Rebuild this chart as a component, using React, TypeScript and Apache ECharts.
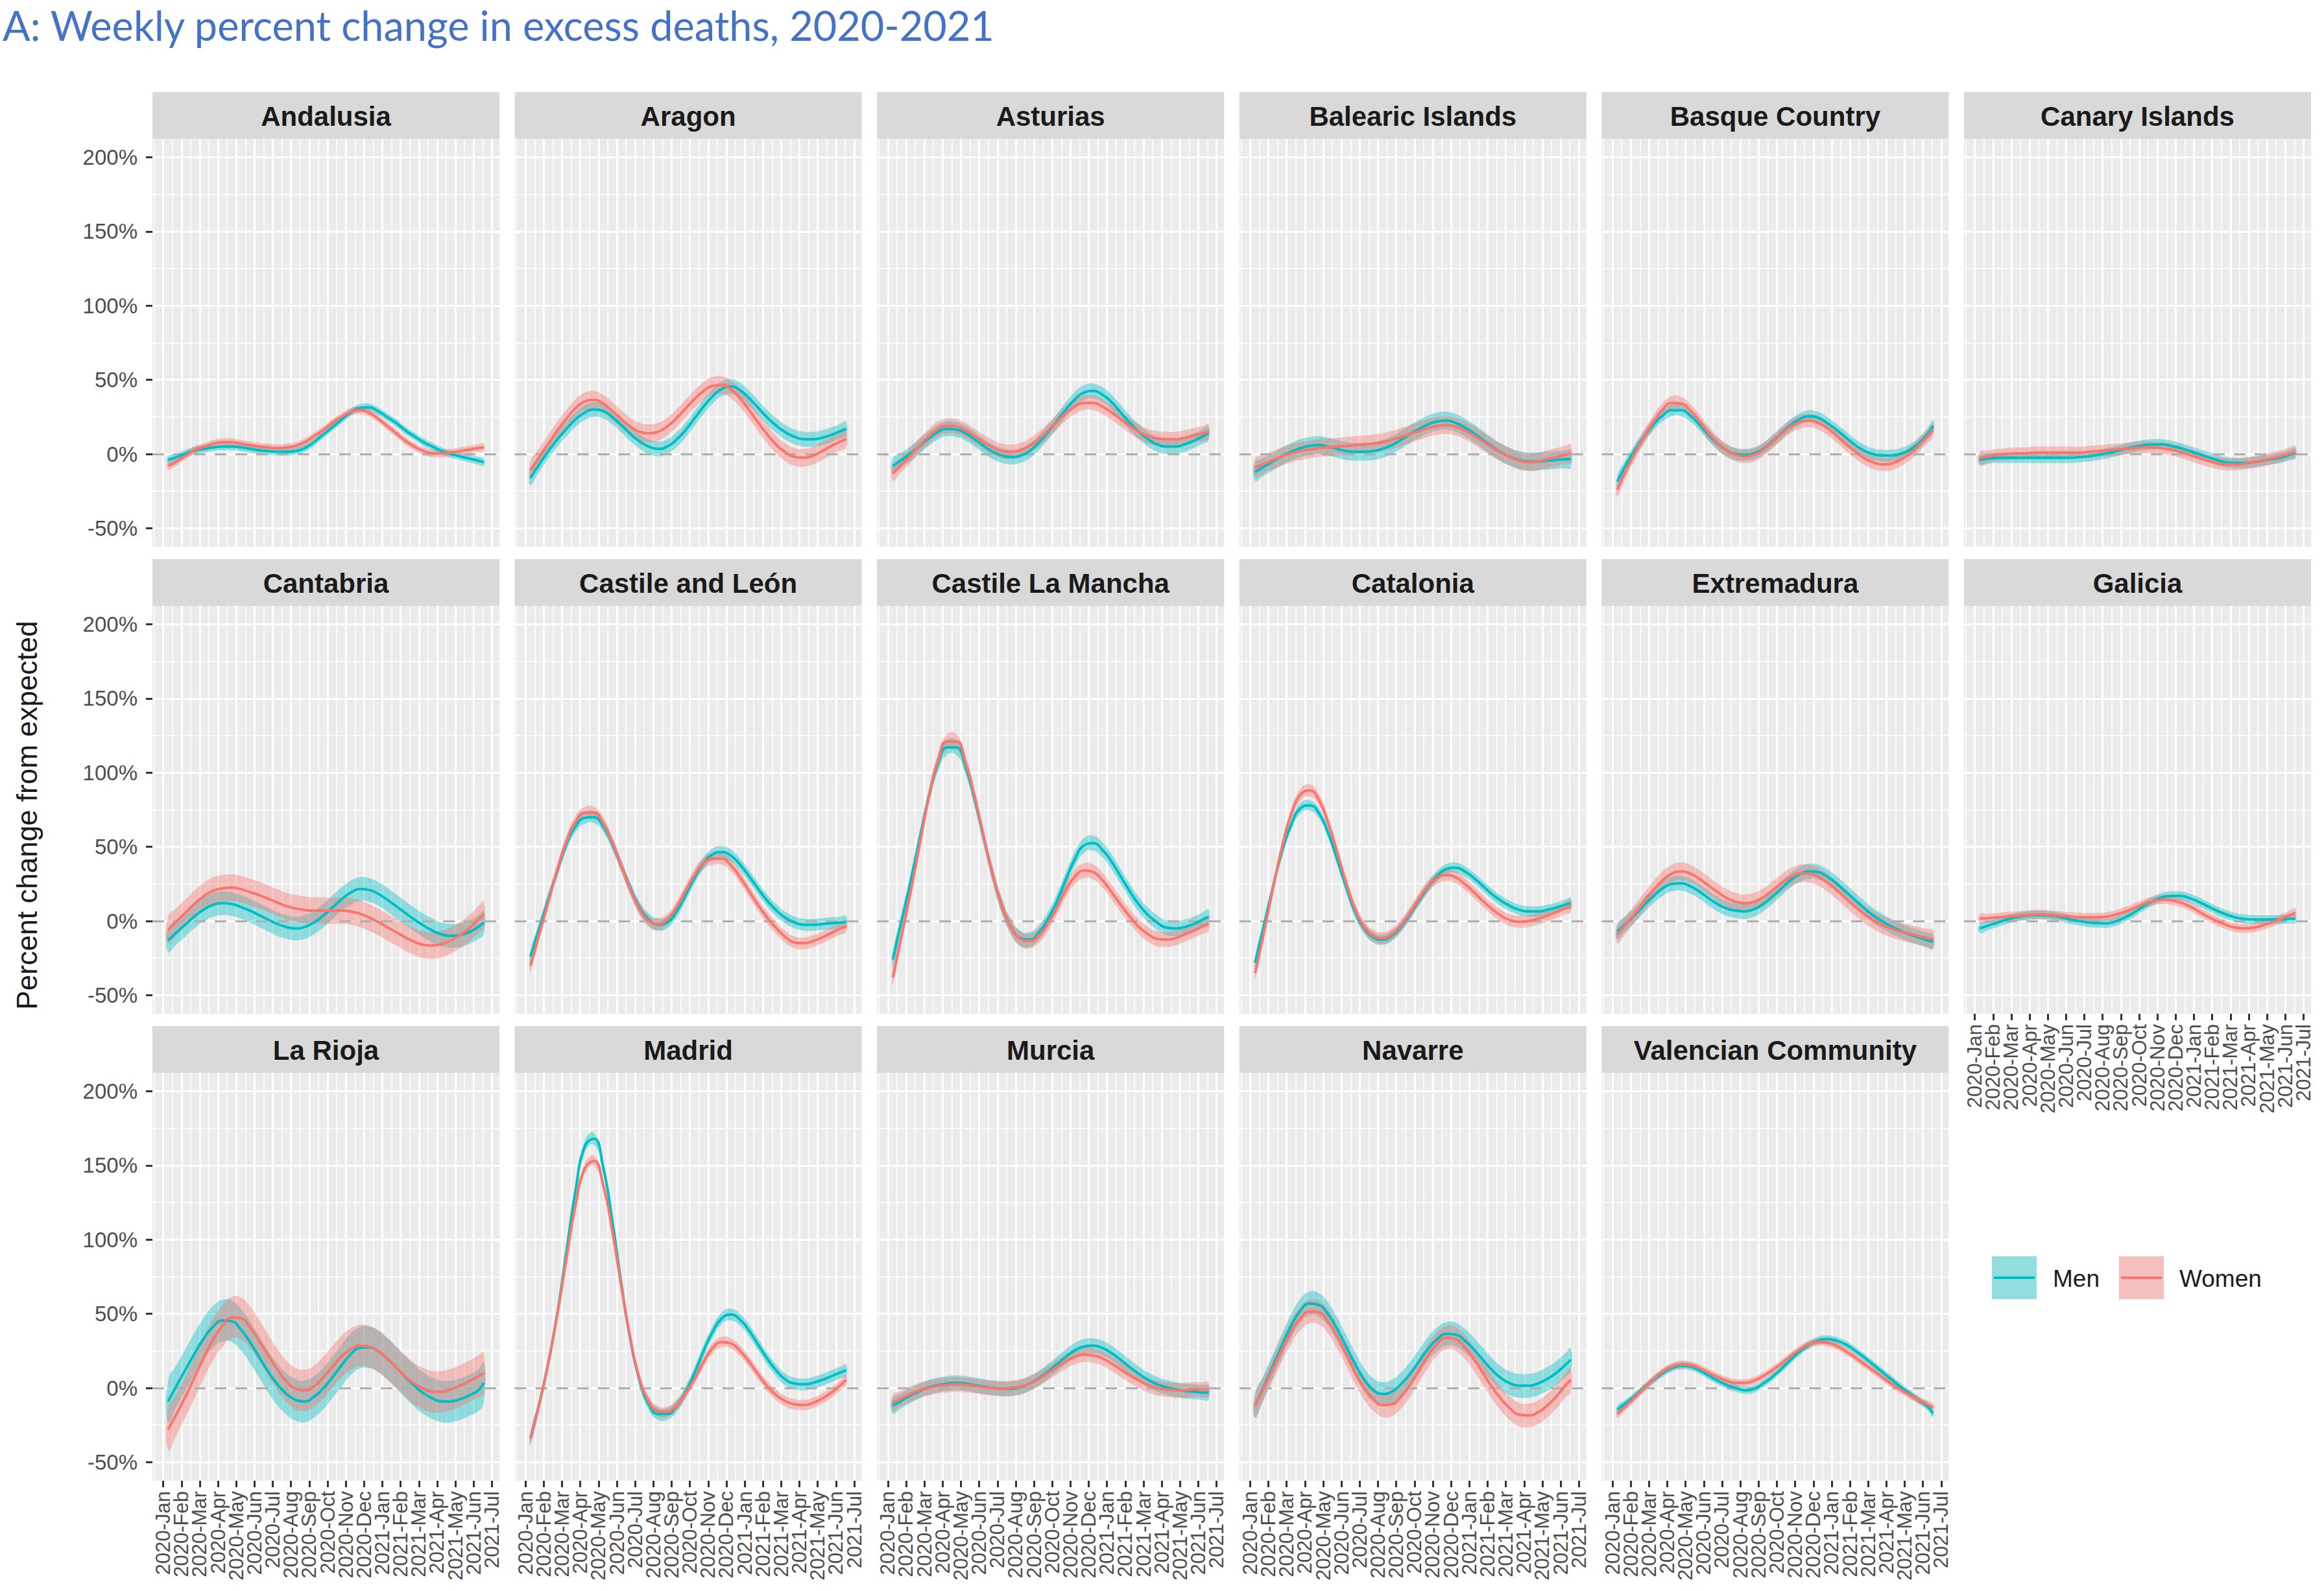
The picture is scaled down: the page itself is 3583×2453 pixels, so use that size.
import React, { useEffect, useRef } from "react";
import * as echarts from "echarts";

// ---------- DATA ----------
const REGIONS = [
  "Andalusia", "Aragon", "Asturias", "Balearic Islands", "Basque Country", "Canary Islands",
  "Cantabria", "Castile and León", "Castile La Mancha", "Catalonia", "Extremadura", "Galicia",
  "La Rioja", "Madrid", "Murcia", "Navarre", "Valencian Community",
];

const MONTH_LABELS = [
  "2020-Jan", "2020-Feb", "2020-Mar", "2020-Apr", "2020-May", "2020-Jun", "2020-Jul",
  "2020-Aug", "2020-Sep", "2020-Oct", "2020-Nov", "2020-Dec", "2021-Jan", "2021-Feb",
  "2021-Mar", "2021-Apr", "2021-May", "2021-Jun", "2021-Jul",
];

// positions in months since 2020-Jan
const MONTH_POS = [0.27, 0.75, 1.25, 1.75, 2.25, 2.75, 3.25, 3.75, 4.25, 4.75, 5.25, 5.75,
  6.25, 6.75, 7.25, 7.75, 8.25, 8.75, 9.25, 9.75, 10.25, 10.75, 11.25, 11.75,
  12.25, 12.75, 13.25, 13.75, 14.25, 14.75, 15.25, 15.75, 16.25, 16.75, 17.25, 17.55];

const Y_BREAKS = [-50, 0, 50, 100, 150, 200];
const Y_MINOR = [-25, 25, 75, 125, 175];

const ANDALUSIA_W = [-8, -5, -1, 3, 5, 7, 8, 8, 7, 6, 5, 4.5, 4, 4.5, 5.5, 8, 12, 16, 21, 25, 28.5, 29.5, 28, 24, 19, 14, 9, 5, 2, 0.5, 0.5, 1, 2, 3, 4, 4.5];
const ANDALUSIA_M = [-4, -2, 0.5, 2.5, 3.5, 4.5, 5, 5, 4.5, 3.5, 2.5, 2, 1.5, 1.5, 2, 4, 8, 13, 18, 23, 28, 31, 31.5, 29, 25, 21, 16, 12, 8, 5, 2, 0, -1.5, -3, -4.5, -5.5];
const ARAGON_W = [-11, -2, 7, 16, 24, 31, 35.5, 36.5, 34, 29, 23.5, 18.5, 15, 14, 15, 18.5, 24, 30.5, 37, 42.5, 46, 46.5, 43.5, 37.5, 29.5, 21, 13, 6, 1, -2, -2.5, -1, 2, 5.5, 8.5, 10];
const ARAGON_M = [-16, -7, 2, 10, 17, 23.5, 28, 30, 29, 25, 19.5, 13.5, 8.5, 5, 3.5, 5, 9.5, 16, 24, 32, 39, 44, 45.5, 43, 37.5, 31, 24.5, 19, 14.5, 11.5, 10, 10, 11, 13, 15.5, 17];
const ASTURIAS_W = [-13, -7, -1, 6, 12, 17, 19, 18.5, 16, 12, 8, 4.5, 2, 1.5, 2.5, 5.5, 10, 15.5, 21.5, 27.5, 32, 34.5, 34.5, 32, 28, 23.5, 19, 15, 12, 10.5, 10, 10, 11, 12.5, 14, 15];
const ASTURIAS_M = [-8, -4, 0.5, 5.5, 10.5, 15, 17, 16.5, 14, 10, 5.5, 1.5, -1, -2, -1, 2, 7.5, 14.5, 22, 30, 37, 41.5, 42.5, 40, 35, 28, 21, 15, 10, 6.5, 5, 5, 6.5, 9, 12, 14];
const BALEARIC_W = [-9, -6.5, -4, -1.5, 0.5, 2, 3, 4, 4.5, 5, 5.5, 6, 6.5, 7, 8, 9.5, 11.5, 13.5, 15.5, 17.5, 19, 19.5, 18.5, 16, 12.5, 8.5, 4.5, 1, -2, -4.5, -5.5, -5, -3.5, -2, -0.5, 0.5];
const BALEARIC_M = [-12, -8.5, -5, -1.5, 1.5, 4, 5.5, 6, 5, 3.5, 2, 1.5, 1.5, 2, 3.5, 6, 9.5, 13.5, 17, 20, 22, 22.5, 21, 18, 14, 9.5, 5, 1, -2, -4, -5, -5, -4.5, -4, -3.5, -3.5];
const BASQUE_W = [-24, -11, 1, 12, 22, 30, 34.5, 34, 29.5, 22.5, 14.5, 7.5, 2.5, -0.5, -1.5, -0.5, 3, 8, 13.5, 18.5, 21.5, 22.5, 21, 17.5, 12.5, 7, 2, -2.5, -5.5, -7, -6.5, -4, 0, 5.5, 12, 16];
const BASQUE_M = [-18.5, -7, 3, 12, 20, 26, 29.5, 29.5, 26, 20, 13, 7, 2.5, 0, -0.5, 0.5, 3.5, 8.5, 14, 19.5, 23.5, 25.5, 24.5, 21, 16.5, 11.5, 6.5, 2.5, 0, -1, -1, 0, 2.5, 7, 13.5, 19];
const CANARY_W = [-2.5, -1.5, -0.5, 0, 0.5, 0.5, 1, 1, 1, 1, 1, 1, 1.5, 2, 2.5, 3, 3.5, 4, 4.5, 4.5, 4, 3, 1.5, -0.5, -2.5, -4.5, -6, -7, -7, -6.5, -5.5, -4.5, -3, -1.5, 0.5, 1.5];
const CANARY_M = [-4, -3, -2.5, -2.5, -2.5, -2.5, -2.5, -2.5, -2.5, -2.5, -2.5, -2, -1.5, -0.5, 0.5, 2, 3.5, 5, 6, 6.5, 6.5, 5.5, 4, 2, 0, -2, -4, -5.5, -6, -6, -5.5, -4.5, -3.5, -2.5, -0.5, 0.5];
const CANTABRIA_W = [-6, 0, 6, 12, 17, 20.5, 22, 22.5, 21.5, 19.5, 17.5, 15, 12.5, 10, 8.5, 7.5, 7, 7, 7, 7, 6.5, 5, 2.5, -0.5, -4, -7.5, -11, -14, -16, -16.5, -15.5, -13, -9.5, -5, 1, 4.5];
const CANTABRIA_M = [-13, -7.5, -2, 3.5, 8, 11, 12, 11.5, 9.5, 7, 4, 1, -2, -4, -5, -4, -1, 3.5, 9, 14.5, 19, 21.5, 21, 18.5, 14.5, 10, 5.5, 1, -3, -6.5, -9, -10, -9.5, -7.5, -4, -1];
const CASTILE_LEON_W = [-30, -9, 13, 35, 54, 67, 73, 73, 66, 53, 37, 21, 8, 0, -2, 1, 9, 20, 31, 39, 42, 42, 37.5, 29.5, 20, 10.5, 2, -5, -11, -14.5, -15, -13.5, -11, -8, -5, -3.5];
const CASTILE_LEON_M = [-24, -5, 15, 34, 52, 64, 69.5, 70, 64, 52, 37, 22, 9, 1, -2.5, -1, 6, 17, 29, 39, 45, 46.5, 44, 38, 30, 21.5, 13.5, 7, 2, -1, -2.5, -2.5, -2, -1.5, -1, -0.5];
const CASTILE_MANCHA_W = [-38, -10, 20, 52, 84, 108, 121, 121, 107, 84, 57, 31, 10, -4, -12, -13.5, -10, -2, 9, 21, 30, 34, 33, 27.5, 19.5, 11, 3, -4, -9, -12, -12.5, -11.5, -9, -6.5, -3.5, -2];
const CASTILE_MANCHA_M = [-26, 0, 27, 56, 84, 106, 117, 117, 104, 82, 56, 31, 10, -4, -11.5, -12.5, -8, 1, 13, 28, 42, 51, 52.5, 48, 40, 30, 20, 11, 4, -1, -4.5, -5, -4, -2, 1, 3];
const CATALONIA_W = [-35, -8, 22, 50, 72, 85, 88, 82, 67, 47, 26, 8, -4, -10, -11.5, -9, -3, 5.5, 15, 23.5, 29, 31, 29.5, 25, 19.5, 13.5, 8, 3.5, 0.5, -0.5, 0, 1.5, 3.5, 6, 8.5, 10];
const CATALONIA_M = [-28, -3, 23, 47, 65, 76, 78, 73, 60, 42, 23, 6, -5, -11, -12.5, -10, -4, 4.5, 14, 23, 30.5, 35, 36, 33.5, 29, 23.5, 18, 13.5, 10, 7.5, 6.5, 6.5, 7.5, 9, 11, 12];
const EXTREMADURA_W = [-9, -2, 5.5, 13.5, 21, 27.5, 32, 33.5, 32, 28.5, 24, 19.5, 15.5, 13, 12, 13, 16, 20.5, 25.5, 29.5, 32, 32, 30, 26, 21, 15.5, 10, 5, 1, -2.5, -5, -7, -8.5, -10, -11.5, -12];
const EXTREMADURA_M = [-7, -1.5, 4.5, 11, 17, 22, 25, 25.5, 23.5, 20, 15.5, 11.5, 8.5, 7, 6.5, 8, 11.5, 16.5, 22, 27.5, 31.5, 33.5, 33, 30, 25.5, 20, 14.5, 9, 4, 0, -3.5, -6.5, -9, -11, -13, -14];
const GALICIA_W = [1.5, 2, 2.5, 3, 3.5, 4, 4.5, 4.5, 4, 3.5, 3, 2.5, 2.5, 2.5, 3, 4.5, 6.5, 9, 11.5, 13.5, 14.5, 14, 12.5, 10, 6.5, 3, 0, -2.5, -4.5, -5, -4.5, -3, -1, 1.5, 4, 5.5];
const GALICIA_M = [-5, -3, -1, 1, 2.5, 3.5, 4, 4, 3.5, 2.5, 1, 0, -1, -1.5, -1.5, 0, 2.5, 6, 10, 13.5, 16, 17, 17, 15.5, 13, 10, 7, 4.5, 2.5, 1.5, 1, 1, 1, 1, 1.5, 1.5];
const LA_RIOJA_W = [-28, -17, -5, 8, 21, 33, 42, 47.5, 47, 41, 32, 22, 12.5, 4.5, -0.5, -1.5, 1, 7, 14, 21, 26, 28.5, 28, 25, 20, 14, 8, 3, -0.5, -2.5, -2.5, -1, 1.5, 4.5, 8, 10];
const LA_RIOJA_M = [-9, 2, 13, 24, 34, 41.5, 45.5, 45, 39.5, 31, 21, 11, 2.5, -4, -8, -9, -6, -0.5, 7, 15, 22.5, 27, 27.5, 25, 20, 14, 7.5, 1.5, -3.5, -7, -9, -9, -7.5, -5, -1.5, 3.5];
const MADRID_W = [-34, -11, 17, 50, 88, 124, 148, 153, 137, 106, 68, 33, 6, -9, -15.5, -16, -12, -4, 6, 17.5, 27, 31, 30, 25, 17.5, 9, 1, -5, -9, -11, -11.5, -10, -7, -3, 2, 5.5];
const MADRID_M = [-34, -11, 17, 51, 93, 134, 163, 168, 149, 113, 70, 32, 5, -11, -17.5, -17.5, -12.5, -3, 10, 25, 38, 47, 49.5, 46, 38.5, 29, 19.5, 11.5, 5.5, 3, 2.5, 3.5, 5.5, 8, 10.5, 12];
const MURCIA_W = [-10, -7, -4, -1.5, 0, 1.5, 2, 2.5, 2, 1.5, 0.5, 0, -0.5, 0, 1, 3, 6, 10, 14, 18, 21, 22.5, 22, 20, 16.5, 12.5, 8.5, 5, 2, 0, -1, -1.5, -1.5, -1, -1, -1];
const MURCIA_M = [-12, -8.5, -5, -2, 0.5, 2, 3, 3.5, 3, 2, 1, 0, -0.5, -0.5, 0.5, 3, 6.5, 11, 16, 21, 25.5, 28, 28.5, 27, 23.5, 19, 14, 9.5, 5.5, 2.5, 0.5, -1, -2, -2.5, -3, -3];
const NAVARRE_W = [-12, 0, 13, 26, 38, 47, 51.5, 51, 45, 35, 23, 10.5, 0, -7.5, -11.5, -11, -6, 2, 12, 22, 30, 34, 33, 27.5, 19.5, 10, 0.5, -7.5, -14, -18, -18.5, -16.5, -12, -6, 1.5, 5.5];
const NAVARRE_M = [-12, 1, 15, 29, 42, 52, 57, 56, 50, 40, 28, 16, 5.5, -1.5, -4, -2.5, 2.5, 9.5, 18, 26.5, 33, 36.5, 36, 32, 26, 19, 12, 6.5, 3, 1.5, 1.5, 3, 6, 10, 15.5, 19];
const VALENCIA_W = [-17.5, -12, -6, 0, 6, 11, 14.5, 16, 15.5, 13.5, 10.5, 7.5, 5, 3.5, 3.5, 5, 8, 12, 16.5, 21.5, 26, 29.5, 31, 30.5, 28.5, 25, 21, 16.5, 12, 7.5, 3, -1, -4.5, -8, -11, -13];
const VALENCIA_M = [-14.5, -10, -5, 0.5, 5.5, 10, 13.5, 15, 14.5, 12, 8.5, 5, 2, 0, -1.5, -0.5, 3, 7.5, 13, 19, 24.5, 29, 32, 33, 32, 29.5, 25.5, 21, 16, 11, 6, 1, -3.5, -8, -12.5, -17];

const MEN = [ANDALUSIA_M, ARAGON_M, ASTURIAS_M, BALEARIC_M, BASQUE_M, CANARY_M, CANTABRIA_M,
  CASTILE_LEON_M, CASTILE_MANCHA_M, CATALONIA_M, EXTREMADURA_M, GALICIA_M, LA_RIOJA_M,
  MADRID_M, MURCIA_M, NAVARRE_M, VALENCIA_M];
const WOMEN = [ANDALUSIA_W, ARAGON_W, ASTURIAS_W, BALEARIC_W, BASQUE_W, CANARY_W, CANTABRIA_W,
  CASTILE_LEON_W, CASTILE_MANCHA_W, CATALONIA_W, EXTREMADURA_W, GALICIA_W, LA_RIOJA_W,
  MADRID_W, MURCIA_W, NAVARRE_W, VALENCIA_W];

// half-width of the confidence band (percentage points)
const CI_MEN = [2.5, 5, 5, 6, 4, 3.5, 8, 4, 5, 3.5, 5, 3, 14, 4, 5, 8, 2.5];
const CI_WOMEN = [2.5, 6, 5, 6, 4.5, 4, 9, 4, 5, 4, 6, 3, 14, 3.5, 5, 8, 2.5];

// ---------- STYLE / LAYOUT ----------
const W = 3583;
const H = 2453;
const COL_LEFT0 = 235;
const COL_PITCH = 558.6;
const PANEL_W = 535;
const ROW_TOP0 = 142;
const ROW_PITCH = 720;
const STRIP_H = 72;
const PANEL_H = 629;
const X_MIN = -0.59;
const X_MAX = 18.41;
const Y_MIN = -62.5;
const Y_MAX = 212.5;
const MEN_COLOR = "#00BFC4";
const WOMEN_COLOR = "#F8766D";
const MEN_FILL = "rgba(0,191,196,0.4)";
const WOMEN_FILL = "rgba(248,118,109,0.4)";
const FONT = "'Liberation Sans', Arial, Helvetica, sans-serif";

function makeRibbon(vals: number[], ci: number, fill: string) {
  return (_params: any, api: any) => {
    const up = MONTH_POS.map((x, i) => api.coord([x, vals[i] + ci]));
    const lo = MONTH_POS.map((x, i) => api.coord([x, vals[i] - ci])).reverse();
    return {
      type: "polygon",
      shape: { points: up.concat(lo), smooth: 0.5 },
      style: { fill },
    };
  };
}

function buildOption() {
  const MONTH_TICKS = MONTH_LABELS.map((_, i) => i);
  const MONTH_EVEN = MONTH_TICKS.filter((v) => v % 2 === 0);
  const MONTH_ODD = MONTH_TICKS.filter((v) => v % 2 === 1);
  const MONTH_MINOR = MONTH_TICKS.map((v) => v - 0.5);
  const grids: any[] = [];
  const xAxes: any[] = [];
  const yAxes: any[] = [];
  const series: any[] = [];
  const graphics: any[] = [];

  REGIONS.forEach((name, r) => {
    const row = Math.floor(r / 6);
    const col = r % 6;
    const left = COL_LEFT0 + col * COL_PITCH;
    const top = ROW_TOP0 + row * ROW_PITCH;
    const showX = row === 2 || r === 11;
    const showY = col === 0;

    grids.push({
      left, top: top + STRIP_H, width: PANEL_W, height: PANEL_H,
      show: true, backgroundColor: "#EBEBEB", borderWidth: 0, containLabel: false,
    });

    const xLabelStyle = {
      show: showX, rotate: 90, margin: 16,
      hideOverlap: false, showMinLabel: true, showMaxLabel: true,
      fontSize: 31, lineHeight: 26, fontFamily: FONT, color: "#4D4D4D",
      formatter: (v: number) => MONTH_LABELS[Math.round(v)] ?? "",
    };

    // major x grid + ticks + even month labels
    xAxes.push({
      type: "value", gridIndex: r, min: X_MIN, max: X_MAX, position: "bottom", offset: 0,
      axisLine: { show: false, onZero: false },
      axisTick: { show: showX, customValues: MONTH_TICKS, length: 10, lineStyle: { color: "#333333", width: 3 } },
      axisLabel: { ...xLabelStyle, customValues: MONTH_EVEN },
      splitLine: { show: true, lineStyle: { color: "#FFFFFF", width: 3 } },
    });
    // minor x grid + odd month labels
    xAxes.push({
      type: "value", gridIndex: r, min: X_MIN, max: X_MAX, position: "bottom", offset: 0,
      axisLine: { show: false, onZero: false },
      axisTick: { show: false, customValues: MONTH_MINOR },
      axisLabel: { ...xLabelStyle, customValues: MONTH_ODD },
      splitLine: { show: true, lineStyle: { color: "#FFFFFF", width: 1.5 } },
    });
    yAxes.push({
      type: "value", gridIndex: r, min: Y_MIN, max: Y_MAX,
      axisLine: { show: false, onZero: false },
      axisTick: { show: showY, customValues: Y_BREAKS, length: 10, lineStyle: { color: "#333333", width: 3 } },
      axisLabel: {
        show: showY, customValues: Y_BREAKS, margin: 23,
        hideOverlap: false, showMinLabel: true, showMaxLabel: true,
        fontSize: 33, fontFamily: FONT, color: "#4D4D4D",
        formatter: (v: number) => `${v}%`,
      },
      splitLine: { show: true, lineStyle: { color: "#FFFFFF", width: 3 } },
    });
    yAxes.push({
      type: "value", gridIndex: r, min: Y_MIN, max: Y_MAX,
      axisLine: { show: false, onZero: false },
      axisTick: { show: false, customValues: Y_MINOR },
      axisLabel: { show: false, customValues: Y_MINOR },
      splitLine: { show: true, lineStyle: { color: "#FFFFFF", width: 1.5 } },
    });

    const xi = 2 * r;
    const yi = 2 * r;
    const men = MEN[r];
    const women = WOMEN[r];

    series.push({
      type: "custom", name: `Men band ${name}`, coordinateSystem: "cartesian2d",
      xAxisIndex: xi, yAxisIndex: yi, z: 2, silent: true, clip: true,
      data: [[MONTH_POS[0], men[0]]],
      renderItem: makeRibbon(men, CI_MEN[r], MEN_FILL),
    });
    series.push({
      type: "custom", name: `Women band ${name}`, coordinateSystem: "cartesian2d",
      xAxisIndex: xi, yAxisIndex: yi, z: 2, silent: true, clip: true,
      data: [[MONTH_POS[0], women[0]]],
      renderItem: makeRibbon(women, CI_WOMEN[r], WOMEN_FILL),
    });
    series.push({
      type: "line", name: `Men ${name}`, xAxisIndex: xi, yAxisIndex: yi,
      data: MONTH_POS.map((x, i) => [x, men[i]]),
      smooth: 0.5, symbol: "none", showSymbol: false, silent: true, z: 4,
      lineStyle: { color: MEN_COLOR, width: 4 }, itemStyle: { color: MEN_COLOR },
      markLine: {
        silent: true, symbol: ["none", "none"], z: 3,
        label: { show: false },
        lineStyle: { color: "#AFAFAF", type: [18, 14], width: 3 },
        emphasis: { disabled: true },
        data: [{ yAxis: 0 }],
      },
    });
    series.push({
      type: "line", name: `Women ${name}`, xAxisIndex: xi, yAxisIndex: yi,
      data: MONTH_POS.map((x, i) => [x, women[i]]),
      smooth: 0.5, symbol: "none", showSymbol: false, silent: true, z: 4,
      lineStyle: { color: WOMEN_COLOR, width: 4 }, itemStyle: { color: WOMEN_COLOR },
    });

    // facet strip
    graphics.push({
      type: "rect", silent: true, z: 10,
      shape: { x: left, y: top, width: PANEL_W, height: STRIP_H },
      style: { fill: "#D9D9D9" },
    });
    graphics.push({
      type: "text", silent: true, z: 11,
      x: left + PANEL_W / 2, y: top + STRIP_H / 2 + 1,
      style: {
        text: name, fill: "#1A1A1A", font: `bold 42px ${FONT}`,
        align: "center", verticalAlign: "middle", textAlign: "center", textVerticalAlign: "middle",
      },
    });
  });

  // title
  graphics.push({
    type: "text", silent: true, z: 11, x: 4, y: 38,
    style: {
      text: "A: Weekly percent change in excess deaths, 2020-2021",
      fill: "#4472C4", font: "63px Lato, 'Open Sans', sans-serif", lineHeight: 66,
      align: "left", verticalAlign: "middle", textAlign: "left", textVerticalAlign: "middle",
    },
  });
  // y axis title
  graphics.push({
    type: "text", silent: true, z: 11, x: 41, y: 1257, rotation: Math.PI / 2,
    style: {
      text: "Percent change from expected", fill: "#1A1A1A", font: `44px ${FONT}`,
      align: "center", verticalAlign: "middle", textAlign: "center", textVerticalAlign: "middle",
    },
  });
  // legend
  const legendItems = [
    { label: "Men", x: 3071, fill: MEN_FILL, color: MEN_COLOR, tx: 3165 },
    { label: "Women", x: 3267, fill: WOMEN_FILL, color: WOMEN_COLOR, tx: 3360 },
  ];
  legendItems.forEach((it) => {
    graphics.push({ type: "rect", silent: true, z: 10, shape: { x: it.x, y: 1937, width: 69, height: 66 }, style: { fill: "#F2F2F2" } });
    graphics.push({ type: "rect", silent: true, z: 11, shape: { x: it.x, y: 1937, width: 69, height: 66 }, style: { fill: it.fill } });
    graphics.push({ type: "line", silent: true, z: 12, shape: { x1: it.x + 3, y1: 1970, x2: it.x + 66, y2: 1970 }, style: { stroke: it.color, lineWidth: 4 } });
    graphics.push({
      type: "text", silent: true, z: 12, x: it.tx, y: 1971,
      style: {
        text: it.label, fill: "#1A1A1A", font: `37px ${FONT}`,
        align: "left", verticalAlign: "middle", textAlign: "left", textVerticalAlign: "middle",
      },
    });
  });

  return {
    animation: false,
    backgroundColor: "#FFFFFF",
    textStyle: { fontFamily: FONT },
    grid: grids,
    xAxis: xAxes,
    yAxis: yAxes,
    series,
    graphic: { elements: graphics },
  };
}

export default function App() {
  const ref = useRef<HTMLDivElement>(null);
  useEffect(() => {
    document.body.style.margin = "0";
    if (!ref.current) return;
    const chart = echarts.init(ref.current, undefined, { renderer: "svg", width: W, height: H });
    chart.setOption(buildOption() as any);
    return () => chart.dispose();
  }, []);
  return <div ref={ref} style={{ width: W, height: H }} />;
}
